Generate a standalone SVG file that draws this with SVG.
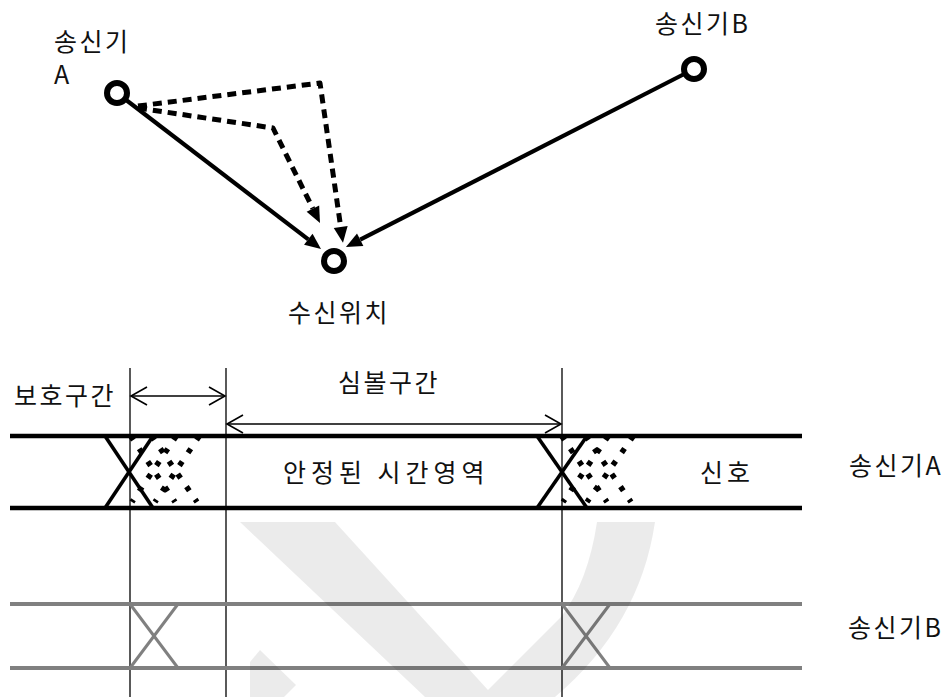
<svg xmlns="http://www.w3.org/2000/svg" width="950" height="697" viewBox="0 0 950 697">
  <style>
    .t { font-family: "Noto Sans CJK KR", "Noto Sans", sans-serif; font-size: 25px; fill: #111; letter-spacing: 2.5px; }
    .node { fill: #fff; stroke: #000; stroke-width: 6; }
    .ray { fill: none; stroke: #000; stroke-width: 4.2; }
    .dash { fill: none; stroke: #000; stroke-width: 5; stroke-dasharray: 9 6; stroke-linejoin: round; }
    .dim { stroke: #000; stroke-width: 1.3; fill: none; }
    .sigA { stroke: #000; stroke-width: 4.5; }
    .xA { stroke: #000; stroke-width: 3.6; }
    .dot { stroke: #000; stroke-width: 5.5; stroke-dasharray: 5 10.4; }
    .sigB { stroke: #808080; stroke-width: 4; }
    .xB { stroke: #808080; stroke-width: 3; }
  </style>
  <defs>
    <marker id="ah" markerUnits="userSpaceOnUse" markerWidth="16" markerHeight="14" refX="0" refY="7" orient="auto" overflow="visible">
      <path d="M0,0 L16,7 L0,14 Z" fill="#000"/>
    </marker>
    <marker id="open" markerUnits="userSpaceOnUse" markerWidth="16" markerHeight="20" refX="16" refY="10" orient="auto-start-reverse" overflow="visible">
      <path d="M0,1 L16,10 L0,19" fill="none" stroke="#000" stroke-width="1.6"/>
    </marker>
  </defs>

  <g id="connectors">
    <line class="ray" x1="117" y1="93" x2="308.3" y2="239.3" marker-end="url(#ah)"/>
    <line class="ray" x1="694" y1="69" x2="360.2" y2="239.7" marker-end="url(#ah)"/>
    <path class="dash" d="M138,106 L320,83 L340.7,227" marker-end="url(#ah)"/>
    <path class="dash" d="M138,108 L273,128 L312.9,208.7" marker-end="url(#ah)"/>
  </g>

  <g id="tx-a">
    <circle class="node" cx="117" cy="93" r="10"/>
    <text class="t" x="54" y="51">송신기</text>
    <text class="t" x="54" y="84">A</text>
  </g>
  <g id="tx-b">
    <circle class="node" cx="694" cy="69" r="10"/>
    <text class="t" x="655" y="33">송신기B</text>
  </g>
  <g id="rx">
    <circle class="node" cx="334" cy="261" r="10"/>
    <text class="t" x="288" y="322">수신위치</text>
  </g>

  <g id="timing">
    <line class="dim" x1="130" y1="368" x2="130" y2="697"/>
    <line class="dim" x1="226" y1="368" x2="226" y2="697"/>
    <line class="dim" x1="562" y1="368" x2="562" y2="697"/>
    <line class="dim" x1="131" y1="396" x2="225" y2="396" marker-start="url(#open)" marker-end="url(#open)"/>
    <line class="dim" x1="227" y1="424" x2="561" y2="424" marker-start="url(#open)" marker-end="url(#open)"/>
    <text class="t" x="14" y="405">보호구간</text>
    <text class="t" x="338" y="392">심볼구간</text>
  </g>

  <g id="signal-a">
    <line class="sigA" x1="10" y1="436" x2="802" y2="436"/>
    <line class="sigA" x1="10" y1="508" x2="802" y2="508"/>
    <line class="xA" x1="105" y1="436" x2="153" y2="508"/>
    <line class="xA" x1="153" y1="436" x2="105" y2="508"/>
    <line class="dot" x1="130.6" y1="435.9" x2="175" y2="502"/>
    <line class="dot" x1="176.4" y1="435.9" x2="132" y2="502"/>
    <line class="dot" x1="151.6" y1="435.9" x2="197" y2="502"/>
    <line class="dot" x1="199.4" y1="435.9" x2="155" y2="502"/>
    <line class="xA" x1="537" y1="436" x2="587" y2="508"/>
    <line class="xA" x1="587" y1="436" x2="537" y2="508"/>
    <line class="dot" x1="561.6" y1="435.9" x2="607" y2="502"/>
    <line class="dot" x1="608.4" y1="435.9" x2="563" y2="502"/>
    <line class="dot" x1="585.6" y1="435.9" x2="631" y2="502"/>
    <line class="dot" x1="633.4" y1="435.9" x2="587" y2="502"/>
    <text class="t" x="283" y="482" style="letter-spacing:5px">안정된 시간영역</text>
    <text class="t" x="700" y="482" style="letter-spacing:4px">신호</text>
    <text class="t" x="849" y="475">송신기A</text>
  </g>

  <g id="signal-b">
    <line class="sigB" x1="10" y1="604" x2="802" y2="604"/>
    <line class="sigB" x1="10" y1="668" x2="802" y2="668"/>
    <line class="xB" x1="130" y1="604" x2="178" y2="668"/>
    <line class="xB" x1="178" y1="604" x2="130" y2="668"/>
    <line class="xB" x1="562" y1="604" x2="610" y2="668"/>
    <line class="xB" x1="610" y1="604" x2="562" y2="668"/>
    <text class="t" x="848" y="637">송신기B</text>
  </g>

  <g id="watermark" fill="#000" fill-opacity="0.08">
    <path d="M240,522 L335,522 L488,690 L561,617 Q588,582 597,522 L655,522 Q640,625 555,697 L425,697 Z"/>
    <path d="M250,662 L260,650 L296,685 L284,697 L250,697 Z"/>
  </g>
</svg>
